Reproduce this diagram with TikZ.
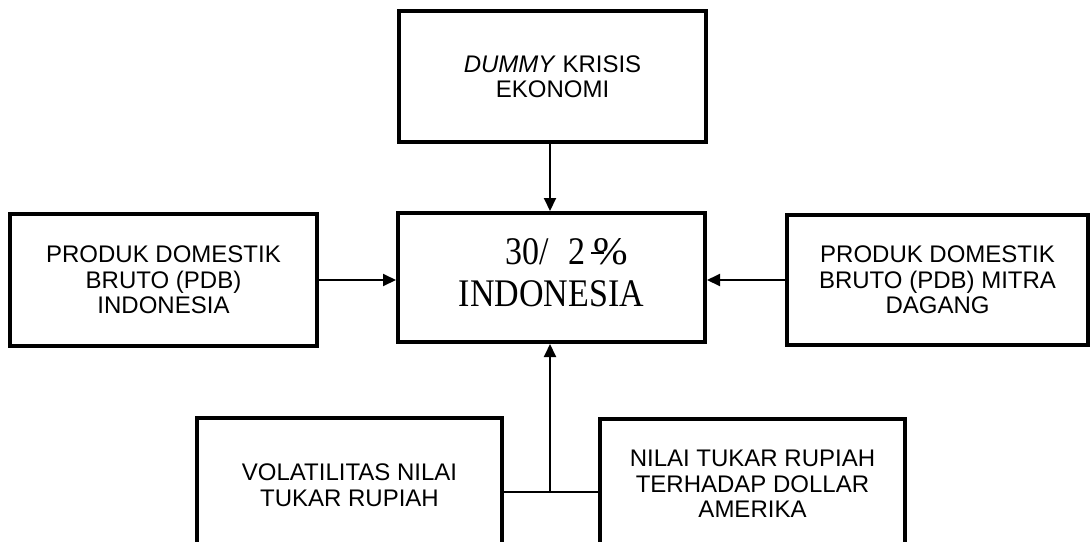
\documentclass[tikz,border=0pt]{standalone}
\usepackage{fontspec}
\setmainfont{Liberation Sans}
\newfontfamily\serifbox{Liberation Serif}
\usetikzlibrary{arrows.meta}
\tikzset{
  box/.style={draw, line width=4pt, rectangle, inner sep=0pt, align=center,
    font=\fontsize{24}{25.5}\selectfont},
  arr/.style={line width=2pt, -{Triangle[length=13pt,width=12pt]}},
  link/.style={line width=2pt}
}
\begin{document}
\begin{tikzpicture}[x=1pt,y=-1pt]
\useasboundingbox (0,0) rectangle (1092,541);
\clip (0,0) rectangle (1092,541);
\node[box, minimum width=307pt, minimum height=131pt] (top) at (552.5,76.5)
  {\textit{DUMMY} KRISIS\\EKONOMI};
\node[box, minimum width=307pt, minimum height=129pt,
  font=\serifbox\fontsize{34}{36.5}\selectfont] (mid) at (551.5,277.5)
  {\scalebox{1}[1.15]{\begin{tabular}{@{}c@{}}
   \hspace*{31pt}30/\hspace{20pt}2\hspace{5pt}\rlap{\rule[9.5pt]{13pt}{1.4pt}}\kern3pt\scalebox{1.22}[1]{\%}\\
   INDONESIA\end{tabular}}};
\node[box, minimum width=307pt, minimum height=132pt] (left) at (163.5,280)
  {PRODUK DOMESTIK\\BRUTO (PDB)\\INDONESIA};
\node[box, minimum width=301pt, minimum height=130pt] (right) at (937.5,280)
  {PRODUK DOMESTIK\\BRUTO (PDB) MITRA\\DAGANG};
\node[box, minimum width=305pt, minimum height=134pt] (bl) at (349.5,485)
  {VOLATILITAS NILAI\\TUKAR RUPIAH};
\node[box, minimum width=305pt, minimum height=130pt] (br) at (752.5,484)
  {NILAI TUKAR RUPIAH\\TERHADAP DOLLAR\\AMERIKA};
\coordinate (j) at (550,492);
\draw[arr] (top.south -| j) -- (mid.north -| j);
\draw[arr] (left.east) -- (left.east -| mid.west);
\draw[arr] (right.west) -- (right.west -| mid.east);
\draw[link] (j -| bl.east) -- (j -| br.west);
\draw[arr] (j) -- (mid.south -| j);
\end{tikzpicture}
\end{document}
